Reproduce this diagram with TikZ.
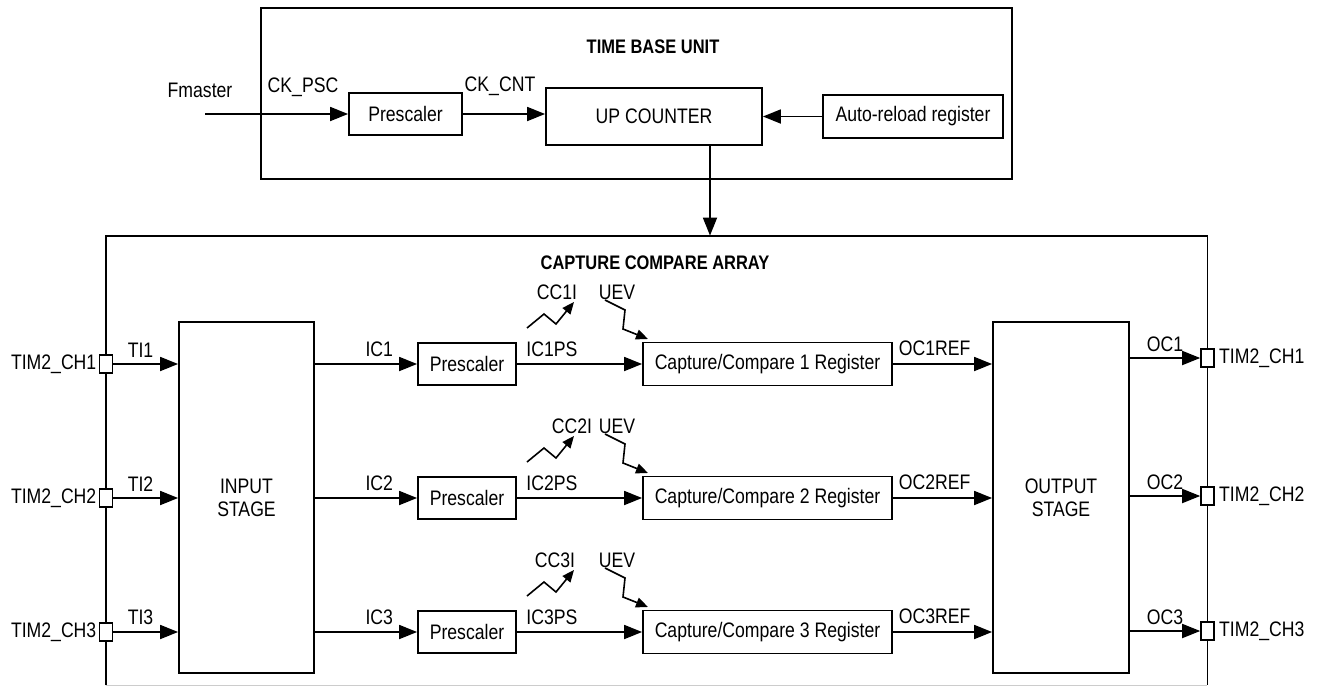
\documentclass[tikz,border=0pt]{standalone}
\usepackage{fontspec}
\setmainfont[FakeStretch=0.84]{Liberation Sans}
\usetikzlibrary{arrows.meta,positioning,calc}

\begin{document}
\begin{tikzpicture}[
  x=0.5pt, y=-0.5pt,
  every node/.style={font=\fontsize{10.5}{11.5}\selectfont},
  blk/.style={draw, line width=0.9pt, inner sep=0pt, minimum height=21.5pt, align=center},
  frame/.style={inner sep=0pt},
  title/.style={font=\fontsize{9.8}{10}\selectfont\bfseries},
  lbl/.style={inner sep=0pt},
  pin/.style={draw, line width=0.8pt, fill=white, minimum width=6.5pt,
              minimum height=9pt, inner sep=0pt},
  arr/.style={-{Triangle[length=9pt,width=7pt]}, line width=0.9pt},
  evt/.style={-{Triangle[length=6pt,width=5pt]}, line width=0.8pt}
]
\useasboundingbox (0,0) rectangle (1323,686);

% time base unit
\node[blk, minimum width=375.5pt, minimum height=85.5pt] (tbu) at (636.5,93.5) {};
\node[title] (tbut) at (653,47) {TIME BASE UNIT};
\node[blk, minimum width=56.5pt, minimum height=21pt] (psc) at (405.5,114) {Prescaler};
\node[blk, minimum width=108pt, minimum height=28.5pt] (cnt) at (654,116.5) {UP COUNTER};
\node[blk, minimum width=90pt] (arld) at (913,116.5) {Auto-reload register};
\coordinate (fin) at (205,114);
\node[lbl] (fmst) at (200,90) {Fmaster};
\node[lbl] (ckpsc) at (303,87) {CK\_PSC};
\node[lbl] (ckcnt) at (500,86) {CK\_CNT};

\draw[arr] (fin) -- (psc.west);
\draw[arr] (psc.east) -- (psc.east -| cnt.west);
\draw[arr] (arld.west) -- (arld.west -| cnt.east);

% capture compare array
\node[frame, minimum width=550.5pt, minimum height=224.5pt] (cca) at (656.5,460.5) {};
\draw[line width=0.9pt] (cca.south west) |- (cca.north east) -- (cca.south east);
\draw[gray!40, line width=0.9pt] (cca.south west) -- (cca.south east);
\node[title] (ccat) at (655,263) {CAPTURE COMPARE ARRAY};
\draw[arr] ([xshift=28pt]cnt.south) -- ([xshift=28pt]cnt.south |- cca.north);

\node[blk, minimum width=67.5pt, minimum height=175.5pt] (ins) at (246.5,497.5) {INPUT\\STAGE};
\node[blk, minimum width=68pt, minimum height=175.5pt] (outs) at (1061,497.5) {OUTPUT\\STAGE};

\foreach \i/\y/\cx/\oy in {1/364/557/358, 2/498/572/496, 3/632/555/631}{
  \node[pin] (pl\i) at (106,\y) {};
  \node[lbl, anchor=east, inner sep=1pt] (tl\i) at (pl\i.west) {TIM2\_CH\i};
  \node[blk, minimum width=49pt, minimum height=21pt] (ps\i) at (467,\y) {Prescaler};
  \node[blk, minimum width=124.5pt] (cc\i) at (767.5,\y) {Capture/Compare \i{} Register};
  \node[pin] (pr\i) at (1207.5,\oy) {};
  \node[lbl, anchor=west, inner sep=2pt] (tr\i) at (pr\i.east) {TIM2\_CH\i};
  \draw[arr] (pl\i.east) -- (pl\i.east -| ins.west) node[lbl, pos=0.42, above=3pt] {TI\i};
  \draw[arr] (ins.east |- ps\i.west) -- (ps\i.west) node[lbl, pos=0.63, above=3pt] {IC\i};
  \draw[arr] (ps\i.east) -- (cc\i.west) node[lbl, pos=0.28, above=3pt] {IC\i PS};
  \draw[arr] (cc\i.east) -- (cc\i.east -| outs.west) node[lbl, pos=0.42, above=3.5pt] {OC\i REF};
  \draw[arr] (outs.east |- pr\i.west) -- (pr\i.west) node[lbl, midway, above=2.5pt] {OC\i};
  % interrupt and update event flags
  \node[lbl] (cci\i) at (\cx,\y-72) {CC\i I};
  \node[lbl] (uev\i) at (617,\y-72) {UEV};
  \draw[evt] (527,\y-36) -- (544,\y-50) -- (556,\y-40) -- (574,\y-62);
  \draw[evt] (605,\y-64) -- (625,\y-54) -- (623,\y-35) -- (648,\y-25);
}
\end{tikzpicture}
\end{document}
